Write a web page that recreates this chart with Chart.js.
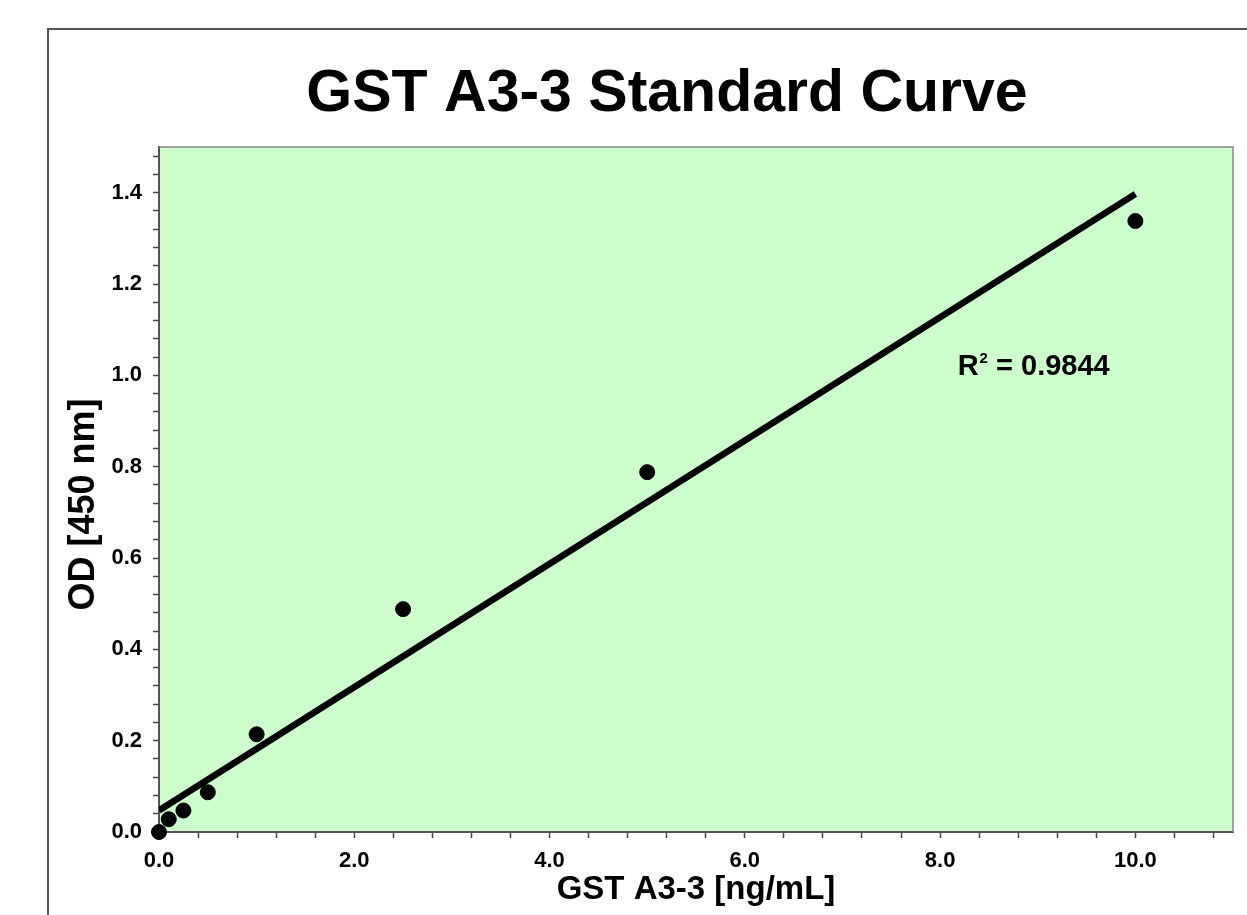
<!DOCTYPE html>
<html>
<head>
<meta charset="utf-8">
<script src="https://cdn.jsdelivr.net/npm/chart.js@4.4.1/dist/chart.umd.min.js"></script>
<style>
body { margin: 0; background: #fff; overflow: hidden; }
#wrap { width: 1247px; height: 915px; }
</style>
</head>
<body>
<div id="wrap"><canvas id="stdCurve"></canvas></div>
<script>
const concentration = [0, 0.1, 0.25, 0.5, 1, 2.5, 5, 10];
const odValues = [0.000, 0.028, 0.047, 0.087, 0.214, 0.488, 0.788, 1.338];
const xTickLabels = ['0.0', '2.0', '4.0', '6.0', '8.0', '10.0'];
const yTickLabels = ['0.0', '0.2', '0.4', '0.6', '0.8', '1.0', '1.2', '1.4'];
const rSquared = '0.9844';

// least squares trend line, drawn from lowest to highest standard
const n = concentration.length;
const mx = concentration.reduce((a, b) => a + b, 0) / n;
const my = odValues.reduce((a, b) => a + b, 0) / n;
let sxy = 0, sxx = 0;
for (let i = 0; i < n; i++) {
    sxy += (concentration[i] - mx) * (odValues[i] - my);
    sxx += (concentration[i] - mx) * (concentration[i] - mx);
}
const slope = sxy / sxx;
const intercept = my - slope * mx;
const fitLine = [Math.min(...concentration), Math.max(...concentration)].map(x => ({x: x, y: intercept + slope * x}));

const FONT = '"Liberation Sans", Arial, sans-serif';
Chart.defaults.font.family = FONT;
Chart.defaults.font.weight = 'bold';
Chart.defaults.color = '#000';

function pickLabel(list) {
    return function (v) {
        const s = v.toFixed(1);
        return (list.includes(s) && Math.abs(v - parseFloat(s)) < 1e-6) ? s : '';
    };
}

const framePlugin = {
    id: 'frame',
    beforeDraw(chart) {
        const {ctx, chartArea: a} = chart;
        ctx.save();
        ctx.fillStyle = '#fff';
        ctx.fillRect(0, 0, chart.width, chart.height);
        ctx.strokeStyle = '#555';
        ctx.lineWidth = 2;
        ctx.strokeRect(48, 29, chart.width + 40, chart.height + 40);
        ctx.fillStyle = '#ccffcc';
        ctx.fillRect(a.left, a.top, a.right - a.left, a.bottom - a.top);
        ctx.restore();
    },
    beforeDatasetsDraw(chart) {
        const {ctx, chartArea: a} = chart;
        ctx.save();
        ctx.strokeStyle = '#888';
        ctx.lineWidth = 1.5;
        ctx.beginPath();
        ctx.moveTo(a.left, a.top);
        ctx.lineTo(a.right, a.top);
        ctx.lineTo(a.right, a.bottom);
        ctx.stroke();
        ctx.restore();
    },
    afterDraw(chart) {
        const ctx = chart.ctx;
        ctx.save();
        ctx.fillStyle = '#000';
        ctx.font = 'bold 59px ' + FONT;
        ctx.textAlign = 'center';
        ctx.textBaseline = 'middle';
        ctx.fillText('GST A3-3 Standard Curve', 667, 95);

        // R squared note
        const x = chart.scales.x.getPixelForValue(8.18);
        const y = chart.scales.y.getPixelForValue(1.0);
        ctx.textAlign = 'left';
        ctx.textBaseline = 'alphabetic';
        ctx.font = 'bold 29px ' + FONT;
        ctx.fillText('R', x, y);
        let w = ctx.measureText('R').width;
        ctx.font = 'bold 15px ' + FONT;
        ctx.fillText('2', x + w + 1, y - 12);
        w += ctx.measureText('2').width + 1;
        ctx.font = 'bold 29px ' + FONT;
        ctx.fillText(' = ' + rSquared, x + w, y);
        ctx.restore();
    }
};

const ctx = document.getElementById('stdCurve');
new Chart(ctx, {
    type: 'scatter',
    data: {
        datasets: [{
            label: 'Standards',
            data: concentration.map((c, i) => ({x: c, y: odValues[i]})),
            backgroundColor: '#000',
            borderColor: '#000',
            pointRadius: 7.5,
            pointHoverRadius: 7.5,
            clip: false
        }, {
            type: 'line',
            label: 'Fit',
            data: fitLine,
            borderColor: '#000',
            borderWidth: 6.5,
            pointRadius: 0,
            fill: false
        }]
    },
    options: {
        responsive: true,
        maintainAspectRatio: false,
        animation: false,
        layout: {
            padding: {left: 49, right: 14, top: 147, bottom: 0}
        },
        scales: {
            x: {
                type: 'linear',
                min: 0,
                max: 11,
                afterFit(scale) { scale.height = 83; },
                border: {color: '#555', width: 2},
                grid: {drawOnChartArea: false, tickLength: 6, tickColor: '#444', tickWidth: 1.5},
                ticks: {
                    stepSize: 0.4,
                    autoSkip: false,
                    maxRotation: 0,
                    includeBounds: false,
                    padding: 10,
                    font: {size: 22, weight: 'bold'},
                    callback: pickLabel(xTickLabels)
                },
                title: {
                    display: true,
                    text: 'GST A3-3 [ng/mL]',
                    font: {size: 33, weight: 'bold'},
                    padding: {top: 0, bottom: 5}
                }
            },
            y: {
                type: 'linear',
                min: 0,
                max: 1.5,
                afterFit(scale) { scale.width = 110; },
                border: {color: '#555', width: 2},
                grid: {drawOnChartArea: false, tickLength: 6, tickColor: '#444', tickWidth: 1.5},
                ticks: {
                    stepSize: 0.04,
                    autoSkip: false,
                    includeBounds: false,
                    padding: 11,
                    font: {size: 22, weight: 'bold'},
                    callback: pickLabel(yTickLabels)
                },
                title: {
                    display: true,
                    text: 'OD [450 nm]   ',
                    font: {size: 36, weight: 'bold'},
                    padding: {top: 13, bottom: 0}
                }
            }
        },
        plugins: {
            legend: {display: false},
            tooltip: {enabled: false}
        }
    },
    plugins: [framePlugin]
});
</script>
</body>
</html>
